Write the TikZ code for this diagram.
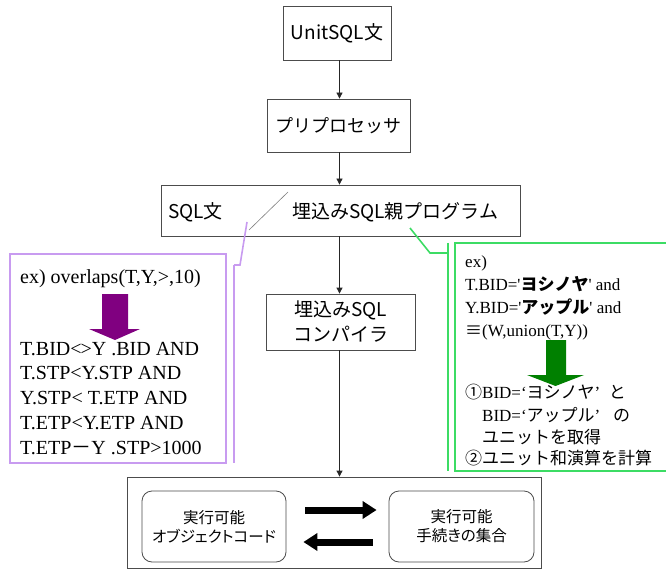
\documentclass[tikz,border=0pt]{standalone}
\usepackage{fontspec}
\setmainfont{Liberation Serif}
\newfontfamily\jp{Noto Sans CJK JP}
\newfontfamily\jpp{Noto Sans CJK JP}[RawFeature=+palt]
\newcommand\myquote{{\addfontfeatures{Ligatures=TeXOff}'}}
\usetikzlibrary{arrows.meta}
\definecolor{lav}{RGB}{200,155,240}
\definecolor{grn}{RGB}{60,220,100}
\definecolor{parr}{RGB}{128,0,128}
\definecolor{garr}{RGB}{0,128,0}
\begin{document}
\begin{tikzpicture}[x=1pt,y=-1pt,
  box/.style={draw=black!70, line width=0.8pt, fill=white, inner sep=0pt, align=center,
              font=\jp\fontsize{19}{25}\selectfont},
  jtxt/.style={inner sep=0pt, font=\jp\fontsize{19}{23}\selectfont},
  arr/.style={draw=black!85, line width=0.8pt, -{Triangle[length=6pt,width=6pt]}},
  rbox/.style={draw=black!70, line width=0.8pt, rounded corners=10pt, inner sep=0pt, align=center,
               minimum width=144pt, minimum height=71pt, font=\jpp\fontsize{15.5}{19}\selectfont},
  big/.style={line width=7pt, -{Triangle[length=14pt,width=17pt]}},
  ltxt/.style={inner sep=0pt, anchor=base west, font=\fontsize{20}{25}\selectfont},
  rtxt/.style={inner sep=0pt, anchor=base west, font=\fontsize{17}{22}\selectfont},
  lead/.style={line width=1.6pt}]
\useasboundingbox (0,0) rectangle (666,569);
\coordinate (vx) at (339.5,0);

% main flow
\node[box, minimum width=108pt, minimum height=54pt] (unit) at (337,33) {UnitSQL文};
\node[box, minimum width=143pt, minimum height=53pt, font=\jp\fontsize{18}{23}\selectfont] (pre) at (338.5,125.5) {プリプロセッサ};
\node[box, minimum width=359pt, minimum height=51pt] (sql) at (340.5,210.5) {};
\node[jtxt, anchor=west] (sqlA) at (168,212) {SQL文};
\node[jtxt, anchor=west] (sqlB) at (292,212) {埋込みSQL親プログラム};
\draw[black!50, line width=0.6pt] (288,192) -- (249,230);
\node[box, minimum width=149pt, minimum height=56pt] (comp) at (340.5,322) {埋込みSQL\\コンパイラ};
\node[box, minimum width=414pt, minimum height=91pt] (exec) at (334,522.5) {};
\node[rbox] (obj) at (214,526.5) {実行可能\\オブジェクトコード};
\node[rbox, minimum width=145pt] (proc) at (461.5,526.5) {実行可能\\手続きの集合};

\draw[arr] (unit.south -| vx) -- (pre.north -| vx);
\draw[arr] (pre.south -| vx) -- (sql.north -| vx);
\draw[arr] (sql.south -| vx) -- (comp.north -| vx);
\draw[arr] (comp.south -| vx) -- (exec.north -| vx);

\draw[big] ([xshift=19pt,yshift=16.5pt]obj.east) -- ([xshift=-12pt,yshift=16.5pt]proc.west);
\draw[big] ([xshift=-16pt,yshift=-15.5pt]proc.west) -- ([xshift=17pt,yshift=-15.5pt]obj.east);

% left callout
\node[draw=lav, line width=2.5pt, minimum width=216pt, minimum height=209pt, inner sep=0pt] (pbox) at (118,358.5) {};
\coordinate (pl1) at (247,222);
\coordinate (pl2) at (240,265);
\coordinate (pl3) at (234,265);
\coordinate (pl4) at (234,463);
\draw[lav, lead] (pl1) -- (pl2) -- (pl3);
\draw[lav, line width=2.5pt] (pl3) -- (pl4);
\fill[parr] (102,294) -- (128,294) -- (128,329) -- (140,329) -- (115,340) -- (89,329) -- (102,329) -- cycle;
\node[ltxt] (l0) at (20,283) {ex) overlaps(T,Y,>,10)};
\node[ltxt] (l1) at (20,355) {T.BID<\kern-1pt>Y .BID AND};
\node[ltxt] (l2) at (20,379) {T.STP<Y.STP AND};
\node[ltxt] (l3) at (20,404) {Y.STP< T.ETP AND};
\node[ltxt] (l4) at (20,429) {T.ETP<Y.ETP AND};
\node[ltxt] (l5) at (20,454) {T.ETP{\jp －}Y .STP>1000};

% right callout
\node[draw=grn, line width=2.5pt, minimum width=215pt, minimum height=228pt, inner sep=0pt] (gbox) at (562.5,357) {};
\coordinate (gl1) at (410,228);
\coordinate (gl2) at (430,253);
\coordinate (gl3) at (448,253);
\coordinate (gl4) at (448,471);
\coordinate (gl5) at (448,243);
\draw[grn, lead] (gl1) -- (gl2) -- (gl3);
\draw[grn, line width=2.5pt] (gl5) -- (gl4);
\fill[garr] (546,340) -- (566,340) -- (566,375) -- (584,375) -- (555.5,386) -- (527,375) -- (546,375) -- cycle;
\node[rtxt] (r0) at (465,267) {ex)};
\node[rtxt] (r1) at (465,290) {T.BID=\myquote{\jp\bfseries ヨシノヤ}\myquote{} and};
\node[rtxt] (r2) at (465,313) {Y.BID=\myquote{\jp\bfseries アップル}\myquote{} and};
\node[rtxt] (r3) at (465,336) {{\jp ≡}(W,union(T,Y))};
\node[rtxt] (r4) at (465,398) {{\jp ①}BID=‘{\jp ヨシノヤ}’\ \ {\jp と}};
\node[rtxt] (r5) at (482,421) {BID=‘{\jp アップル}’\ \ \ {\jp の}};
\node[rtxt] (r6) at (482,443) {{\jp ユニットを取得}};
\node[rtxt] (r7) at (465,464) {{\jp ②ユニット和演算を計算}};
\end{tikzpicture}
\end{document}
